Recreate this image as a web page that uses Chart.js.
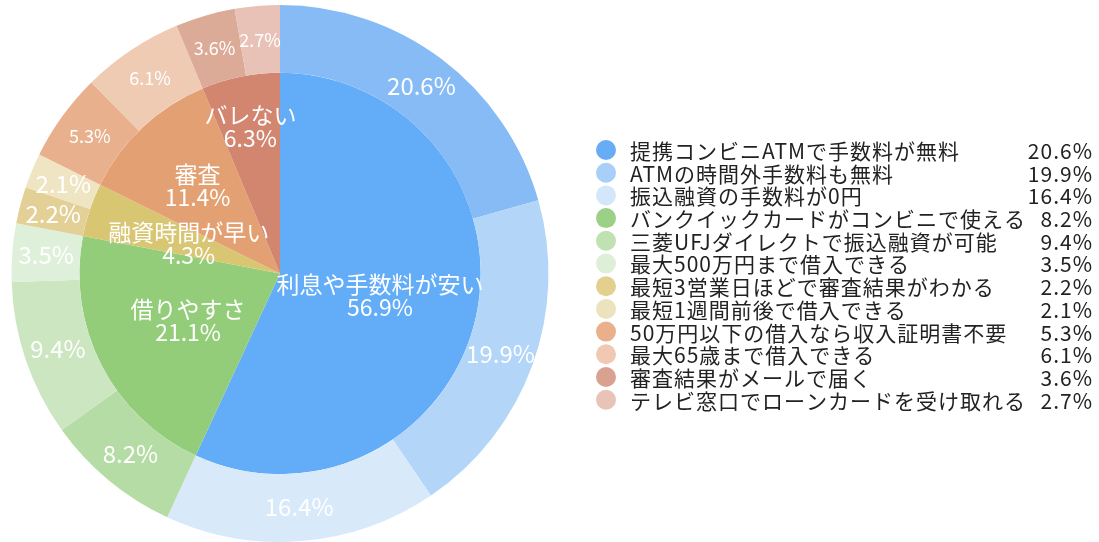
<!DOCTYPE html>
<html>
<head>
<meta charset="utf-8">
<script src="https://cdn.jsdelivr.net/npm/chart.js@4.4.0/dist/chart.umd.min.js"></script>
<style>
html,body{margin:0;padding:0;background:#fff;overflow:hidden;}
#wrap{position:absolute;left:0;top:0;width:1099px;height:542px;}
</style>
</head>
<body>
<div id="wrap"><canvas id="c" width="1099" height="542"></canvas></div>
<script>
// ---- data ----
const innerLabels = ['利息や手数料が安い', '借りやすさ', '融資時間が早い', '審査', 'バレない'];
const innerValues = [56.9, 21.1, 4.3, 11.4, 6.3];
const outerLabels = [
  '提携コンビニATMで手数料が無料',
  'ATMの時間外手数料も無料',
  '振込融資の手数料が0円',
  'バンクイックカードがコンビニで使える',
  '三菱UFJダイレクトで振込融資が可能',
  '最大500万円まで借入できる',
  '最短3営業日ほどで審査結果がわかる',
  '最短1週間前後で借入できる',
  '50万円以下の借入なら収入証明書不要',
  '最大65歳まで借入できる',
  '審査結果がメールで届く',
  'テレビ窓口でローンカードを受け取れる'
];
const outerValues = [20.6, 19.9, 16.4, 8.2, 9.4, 3.5, 2.2, 2.1, 5.3, 6.1, 3.6, 2.7];

// ---- styles ----
const innerColors = ['#62acf8', '#93cd7a', '#d9c673', '#e3a072', '#d2856f'];
const outerColors = ['#86bbf6', '#b2d5f8', '#d8e9fa', '#b6dca5', '#cbe6c0', '#def0d9',
                     '#e3d097', '#efe5c3', '#e9b08e', '#f0cbb4', '#dcab98', '#e8c2b7'];
const legendColors = ['#68acf6', '#a8cff8', '#d3e6fa', '#9bd087', '#c0e2b3', '#deefd8',
                      '#e3cf8e', '#ece2bd', '#eab08c', '#f1c9b2', '#d9a190', '#e8c3b8'];
const innerLabelRadius = [0.51, 0.515, 0.48, 0.6, 0.75];
const outerFontSizes = [24, 24, 24, 24, 24, 24, 24, 24, 18, 18, 18, 18];
const FONT = '"Noto Sans CJK JP", "Noto Sans", sans-serif';

const labelPlugin = {
  id: 'sliceLabels',
  afterDatasetsDraw(chart) {
    const ctx = chart.ctx;
    ctx.save();
    ctx.fillStyle = '#ffffff';
    ctx.textAlign = 'center';
    ctx.textBaseline = 'middle';
    // outer ring labels
    const m0 = chart.getDatasetMeta(0);
    m0.data.forEach((arc, i) => {
      const p = arc.getProps(['x', 'y', 'startAngle', 'endAngle', 'innerRadius', 'outerRadius'], true);
      const a = (p.startAngle + p.endAngle) / 2;
      const r = (p.innerRadius + p.outerRadius) / 2;
      ctx.font = outerFontSizes[i] + 'px ' + FONT;
      ctx.fillText(outerValues[i].toFixed(1) + '%', p.x + Math.cos(a) * r, p.y + Math.sin(a) * r);
    });
    // inner pie labels
    const m1 = chart.getDatasetMeta(1);
    m1.data.forEach((arc, i) => {
      const p = arc.getProps(['x', 'y', 'startAngle', 'endAngle', 'innerRadius', 'outerRadius'], true);
      const a = (p.startAngle + p.endAngle) / 2;
      const r = p.outerRadius * innerLabelRadius[i];
      const cx = p.x + Math.cos(a) * r, cy = p.y + Math.sin(a) * r;
      ctx.font = '23px ' + FONT;
      ctx.fillText(innerLabels[i], cx, cy - 11);
      ctx.fillText(innerValues[i].toFixed(1) + '%', cx, cy + 12);
    });
    ctx.restore();
  },
  afterDraw(chart) {
    const ctx = chart.ctx;
    ctx.save();
    const x0 = 606, y0 = 150, dy = 22.7;
    ctx.textBaseline = 'middle';
    ctx.font = '21px ' + FONT;
    try { ctx.letterSpacing = '1px'; } catch (e) {}
    outerLabels.forEach((lab, i) => {
      const y = y0 + dy * i;
      ctx.fillStyle = legendColors[i];
      ctx.beginPath();
      ctx.arc(x0, y, 10, 0, Math.PI * 2);
      ctx.fill();
      ctx.fillStyle = '#222222';
      ctx.textAlign = 'left';
      ctx.fillText(lab, 630, y + 1);
      ctx.textAlign = 'right';
      ctx.fillText(outerValues[i].toFixed(1) + '%', 1093, y + 1);
    });
    ctx.restore();
  }
};

new Chart(document.getElementById('c'), {
  type: 'doughnut',
  data: {
    labels: outerLabels,
    datasets: [
      { data: outerValues, backgroundColor: outerColors, borderWidth: 0, weight: 68 },
      { data: innerValues, backgroundColor: innerColors, borderWidth: 0, weight: 201 }
    ]
  },
  options: {
    responsive: false,
    animation: false,
    cutout: 0,
    layout: { padding: { left: 11, right: 550, top: 5, bottom: 0 } },
    plugins: { legend: { display: false }, tooltip: { enabled: false } }
  },
  plugins: [labelPlugin]
});
</script>
</body>
</html>
